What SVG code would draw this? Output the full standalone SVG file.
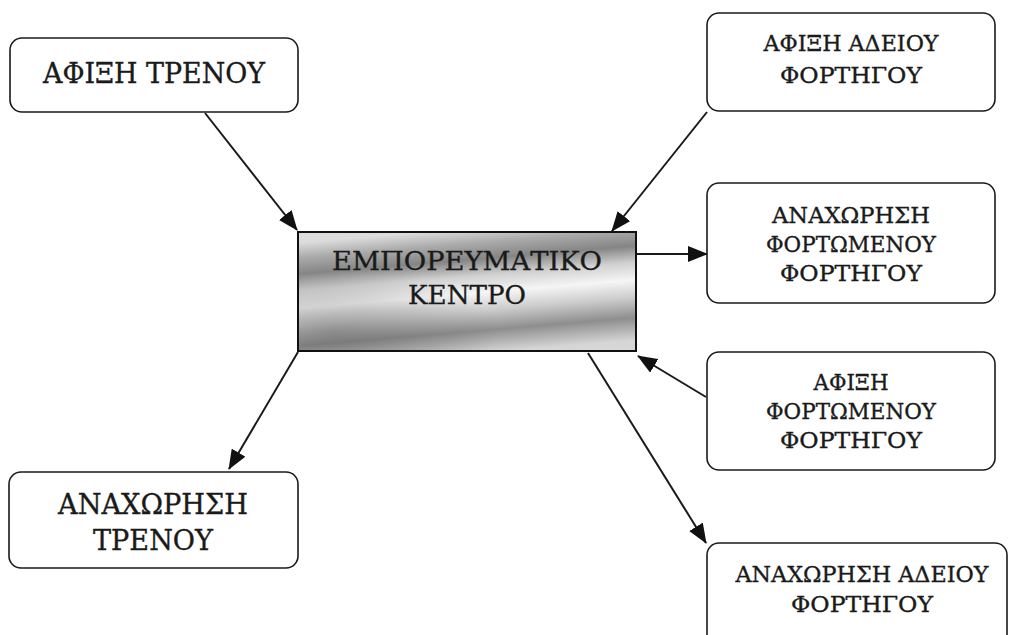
<svg xmlns="http://www.w3.org/2000/svg" width="1009" height="635" viewBox="0 0 1009 635">
  <style>
    .node { fill: #ffffff; stroke: #1a1a1a; stroke-width: 1.6; }
    .hub { stroke: #111111; stroke-width: 2; }
    .lbl { font-family: "DejaVu Serif", "Liberation Serif", serif; fill: #1a1a1a; stroke: #1a1a1a; stroke-width: 0.35; text-anchor: middle; }
    .big { font-size: 27px; }
    .mid { font-size: 26px; }
    .sm { font-size: 22px; }
    .link { stroke: #1a1a1a; stroke-width: 2; fill: none; marker-end: url(#arrow); }
  </style>
  <defs>
    <marker id="arrow" markerUnits="userSpaceOnUse" markerWidth="20" markerHeight="16" viewBox="0 0 20 16" refX="19" refY="8" orient="auto">
      <path d="M0,0 L20,8 L0,16 Z" fill="#111111"/>
    </marker>
    <!-- brushed-metal fill for the hub -->
    <linearGradient id="metal" x1="0.38" y1="0" x2="0.62" y2="1">
      <stop offset="0" stop-color="#dcdcdc"/>
      <stop offset="0.12" stop-color="#aaaaaa"/>
      <stop offset="0.25" stop-color="#858585"/>
      <stop offset="0.38" stop-color="#d0d0d0"/>
      <stop offset="0.52" stop-color="#f5f5f5"/>
      <stop offset="0.66" stop-color="#cccccc"/>
      <stop offset="0.82" stop-color="#8e8e8e"/>
      <stop offset="1" stop-color="#d6d6d6"/>
    </linearGradient>
    <radialGradient id="shade" cx="0.1" cy="0.85" r="0.5">
      <stop offset="0" stop-color="#555555" stop-opacity="0.4"/>
      <stop offset="1" stop-color="#555555" stop-opacity="0"/>
    </radialGradient>
  </defs>

  <!-- connectors -->
  <g id="connectors">
    <line class="link" x1="205" y1="113" x2="297" y2="230"/>
    <line class="link" x1="707" y1="112" x2="612" y2="231"/>
    <line class="link" x1="636" y1="254" x2="707" y2="254"/>
    <line class="link" x1="706" y1="397" x2="638" y2="356"/>
    <line class="link" x1="298" y1="352" x2="229" y2="469"/>
    <line class="link" x1="588" y1="353" x2="706" y2="543"/>
  </g>

  <!-- central hub -->
  <g id="hub">
    <rect class="hub" x="298" y="232" width="338" height="119" fill="url(#metal)"/>
    <rect x="299" y="233" width="336" height="117" fill="url(#shade)"/>
    <text class="lbl mid" x="467" y="270" textLength="270" lengthAdjust="spacingAndGlyphs">ΕΜΠΟΡΕΥΜΑΤΙΚΟ</text>
    <text class="lbl mid" x="467" y="304" textLength="118" lengthAdjust="spacingAndGlyphs">ΚΕΝΤΡΟ</text>
  </g>

  <g id="train-arrival">
    <rect class="node" x="10" y="38" width="288" height="74" rx="12"/>
    <text class="lbl big" x="154" y="83" textLength="222" lengthAdjust="spacingAndGlyphs">ΑΦΙΞΗ ΤΡΕΝΟΥ</text>
  </g>

  <g id="train-departure">
    <rect class="node" x="9" y="472" width="289" height="96" rx="12"/>
    <text class="lbl big" x="153" y="514" textLength="190" lengthAdjust="spacingAndGlyphs">ΑΝΑΧΩΡΗΣΗ</text>
    <text class="lbl big" x="153" y="550" textLength="120" lengthAdjust="spacingAndGlyphs">ΤΡΕΝΟΥ</text>
  </g>

  <g id="empty-truck-arrival">
    <rect class="node" x="707" y="13" width="288" height="98" rx="12"/>
    <text class="lbl sm" x="851" y="51" textLength="175" lengthAdjust="spacingAndGlyphs">ΑΦΙΞΗ ΑΔΕΙΟΥ</text>
    <text class="lbl sm" x="851" y="83" textLength="142" lengthAdjust="spacingAndGlyphs">ΦΟΡΤΗΓΟΥ</text>
  </g>

  <g id="loaded-truck-departure">
    <rect class="node" x="707" y="183" width="288" height="120" rx="12"/>
    <text class="lbl sm" x="851" y="223" textLength="158" lengthAdjust="spacingAndGlyphs">ΑΝΑΧΩΡΗΣΗ</text>
    <text class="lbl sm" x="851" y="252" textLength="170" lengthAdjust="spacingAndGlyphs">ΦΟΡΤΩΜΕΝΟΥ</text>
    <text class="lbl sm" x="851" y="281" textLength="142" lengthAdjust="spacingAndGlyphs">ΦΟΡΤΗΓΟΥ</text>
  </g>

  <g id="loaded-truck-arrival">
    <rect class="node" x="707" y="352" width="288" height="118" rx="12"/>
    <text class="lbl sm" x="851" y="390" textLength="75" lengthAdjust="spacingAndGlyphs">ΑΦΙΞΗ</text>
    <text class="lbl sm" x="851" y="419" textLength="170" lengthAdjust="spacingAndGlyphs">ΦΟΡΤΩΜΕΝΟΥ</text>
    <text class="lbl sm" x="851" y="448" textLength="142" lengthAdjust="spacingAndGlyphs">ΦΟΡΤΗΓΟΥ</text>
  </g>

  <g id="empty-truck-departure">
    <rect class="node" x="707" y="543" width="300" height="110" rx="12"/>
    <text class="lbl sm" x="862" y="582" textLength="253" lengthAdjust="spacingAndGlyphs">ΑΝΑΧΩΡΗΣΗ ΑΔΕΙΟΥ</text>
    <text class="lbl sm" x="862" y="612" textLength="142" lengthAdjust="spacingAndGlyphs">ΦΟΡΤΗΓΟΥ</text>
  </g>
</svg>
